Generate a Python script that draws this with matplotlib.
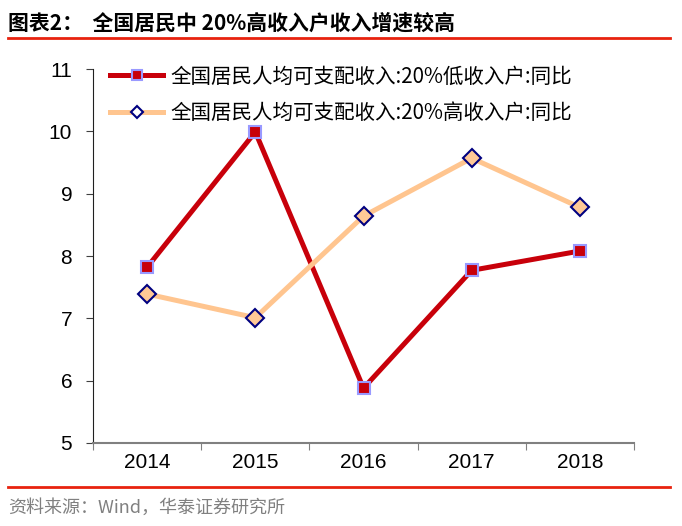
import matplotlib
matplotlib.use("Agg")
import matplotlib.pyplot as plt
from matplotlib.lines import Line2D

plt.rcParams['font.family'] = ['Noto Sans CJK SC', 'DejaVu Sans']

years = ['2014', '2015', '2016', '2017', '2018']
low_income = [7.82, 9.99, 5.88, 7.77, 8.08]
high_income = [7.39, 7.01, 8.64, 9.57, 8.78]
yticks = [5, 6, 7, 8, 9, 10, 11]
label_low = '全国居民人均可支配收入:20%低收入户:同比'
label_high = '全国居民人均可支配收入:20%高收入户:同比'
title = '图表2：  全国居民中 20%高收入户收入增速较高'
source = '资料来源：Wind，华泰证券研究所'

fig = plt.figure(figsize=(6.82, 5.26), dpi=100)
ax = fig.add_axes([0.1364, 0.1578, 0.7932, 0.711])

x = list(range(len(years)))
ax.plot(x, low_income, color='#C8000A', lw=3.6, marker='s', ms=9,
        mfc='#C8000A', mec='#9999FF', mew=1.5, zorder=3)
ax.plot(x, high_income, color='#FFC58F', lw=3.6, marker='D', ms=9,
        mfc='#FFC896', mec='#000080', mew=1.5, zorder=3)

ax.set_xlim(-0.5, len(years) - 0.5)
ax.set_ylim(5, 11)
ax.set_yticks(yticks)
ax.set_yticklabels([str(v) for v in yticks], family='Liberation Sans', fontsize=15)
ax.set_xticks([i + 0.5 for i in range(len(years) - 1)] + [-0.5, len(years) - 0.5])
ax.set_xticklabels([''] * (len(years) + 1))
ax.set_xticks(x, minor=True)
ax.set_xticklabels(years, minor=True, family='Liberation Sans', fontsize=15)
ax.tick_params(axis='x', which='minor', length=0, pad=7)
ax.tick_params(axis='x', which='major', length=5, color='#808080', direction='out')
ax.tick_params(axis='y', length=5, color='#404040', direction='out', pad=10)
for s in ['top', 'right']:
    ax.spines[s].set_visible(False)
ax.spines['left'].set_color('#202020')
ax.spines['bottom'].set_color('#808080')
ax.spines['bottom'].set_linewidth(1.5)

handles = [
    Line2D([], [], color='#C8000A', lw=3.6, marker='s', ms=7, mfc='#C8000A', mec='#9999FF', mew=1.5),
    Line2D([], [], color='#FFC58F', lw=3.6, marker='D', ms=6, mfc='#FFFFFF', mec='#000080', mew=1.5),
]
leg = ax.legend(handles, [label_low, label_high], loc='upper left',
                bbox_to_anchor=(0.031, 1.009), frameon=False, fontsize=14.8,
                handlelength=2.6, labelspacing=0.72, handletextpad=0.35,
                borderpad=0, borderaxespad=0, numpoints=1)

fig.text(0.012, 0.957, title, fontsize=15, fontweight='bold', va='center', ha='left')
fig.add_artist(Line2D([0.012, 0.982], [0.928, 0.928], color='#E8220E', lw=2))
fig.add_artist(Line2D([0.012, 0.982], [0.074, 0.074], color='#E8220E', lw=2))
fig.text(0.012, 0.034, source, fontsize=13, color='#808080', va='center', ha='left')

fig.savefig('out.png', dpi=100)
